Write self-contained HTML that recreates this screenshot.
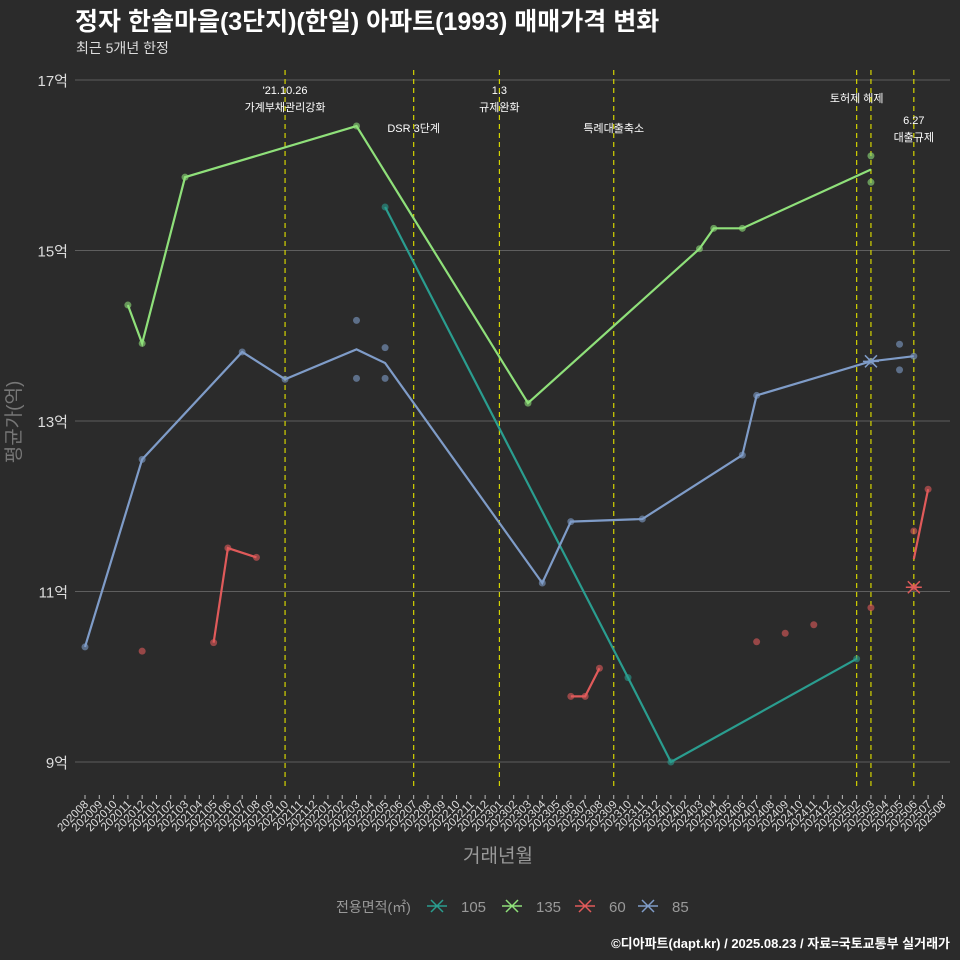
<!DOCTYPE html>
<html><head><meta charset="utf-8"><style>
body{margin:0;background:#2b2b2b;}
svg{display:block;font-family:"Liberation Sans","Noto Sans CJK KR",sans-serif;}
</style></head><body>
<svg id="c" width="960" height="960" viewBox="0 0 960 960">
<rect width="960" height="960" fill="#2b2b2b"/>
<text x="75" y="30" fill="#fff" font-size="25" font-weight="bold">정자 한솔마을(3단지)(한일) 아파트(1993) 매매가격 변화</text>
<text x="76" y="53" fill="#ddd" font-size="14">최근 5개년 한정</text>
<g id="grid"></g><g id="vl"></g><g id="lines"></g><g id="pts"></g><g id="xt"></g>
<text x="498" y="862" fill="#999" font-size="19" text-anchor="middle">거래년월</text>
<text transform="translate(20,422) rotate(-90)" fill="#777" font-size="19" text-anchor="middle">평균가(억)</text>
<g id="legend">
<text x="336" y="912" fill="#999" font-size="14">전용면적(㎡)</text>
</g>
<text x="950" y="948" fill="#fff" font-size="13" font-weight="bold" text-anchor="end">©디아파트(dapt.kr) / 2025.08.23 / 자료=국토교통부 실거래가</text>
</svg>
<script>
const months=[];for(let y=2020,m=8;months.length<61;){months.push(y+String(m).padStart(2,'0'));m++;if(m>12){m=1;y++;}}
const yTicks=[9,11,13,15,17];
const series=['105','135','60','85'];
const colors={'105':'#2a9d8f','135':'#8fe07a','60':'#e05a5a','85':'#7f9cc8'};
const line105=[[21,15.51],[38,9.99],[41,9.0],[54,10.21]];
const line135=[[3,14.36],[4,13.91],[7,15.86],[19,16.46],[31,13.21],[43,15.02],[44,15.26],[46,15.26],[55,15.95]];
const line60=[[9,10.40],[10,11.51],[12,11.40],null,[34,9.77],[35,9.77],[36,10.10],null,[58,11.38],[59,12.20]];
const line85=[[0,10.35],[4,12.55],[11,13.81],[14,13.49],[19,13.84],[21,13.68],[32,11.10],[34,11.82],[39,11.85],[46,12.60],[47,13.30],[55,13.70],[58,13.76]];
const pts105=[[21,15.51],[38,9.99],[41,9.0],[54,10.21]];
const pts135=[[3,14.36],[4,13.91],[7,15.86],[19,16.46],[31,13.21],[43,15.02],[44,15.26],[46,15.26],[55,16.11],[55,15.80]];
const pts60=[[4,10.30],[9,10.40],[10,11.51],[12,11.40],[34,9.77],[35,9.77],[36,10.10],[47,10.41],[49,10.51],[51,10.61],[55,10.81],[58,11.71],[58,11.05],[59,12.20]];
const pts85=[[0,10.35],[4,12.55],[11,13.81],[14,13.49],[19,14.18],[19,13.50],[21,13.86],[21,13.50],[32,11.10],[34,11.82],[39,11.85],[46,12.60],[47,13.30],[55,13.70],[57,13.90],[57,13.60],[58,13.76]];
const eventIdx=[14,23,29,37,54,55,58];
const eventLabels=[["'21.10.26","가계부채관리강화"],["DSR 3단계"],["1.3","규제완화"],["특례대출축소"],["토허제 해제"],[],["6.27","대출규제"]];
const eventY=[90,128,90,128,98,0,120];
const X=i=>85+i*14.29, Y=v=>762-(v-9)*85.25;
const NS='http://www.w3.org/2000/svg';
function mk(t,a,p){const e=document.createElementNS(NS,t);for(const k in a)e.setAttribute(k,a[k]);p.appendChild(e);return e;}
const g=id=>document.getElementById(id);
yTicks.forEach(v=>{const l=mk('line',{x1:75,x2:950,y1:Y(v),y2:Y(v),stroke:'#5e5e5e','stroke-width':1},g('grid'));


const t=mk('text',{x:68,y:Y(v)+6,fill:'#ddd','font-size':15,'text-anchor':'end'},g('grid'));t.textContent=v+'억';

});
months.forEach((m,i)=>{const l=mk('line',{x1:X(i),x2:X(i),y1:795,y2:799,stroke:'#bbb'},g('xt'));


const t=mk('text',{transform:`translate(${X(i)+4},805) rotate(-45)`,fill:'#ddd','font-size':11.5,'text-anchor':'end'},g('xt'));t.textContent=m;

});
eventIdx.forEach((ix,k)=>{const l=mk('line',{x1:X(ix),x2:X(ix),y1:70,y2:790,stroke:'#d4d400','stroke-width':1.2,'stroke-dasharray':'5,4'},g('vl'));


eventLabels[k].forEach((s,j)=>{const t=mk('text',{x:X(ix),y:eventY[k]+j*17+4,fill:'#fff','font-size':11,'text-anchor':'middle'},g('vl'));t.textContent=s;

});});
const L={'105':line105,'135':line135,'60':line60,'85':line85},P={'105':pts105,'135':pts135,'60':pts60,'85':pts85};
series.forEach(s=>{let d='',mv=true;L[s].forEach(p=>{if(!p){mv=true;return;}d+=(mv?'M':'L')+X(p[0])+','+Y(p[1]);mv=false;});
const pa=mk('path',{d,fill:'none',stroke:colors[s],'stroke-width':2.2},g('lines'));


P[s].forEach(p=>{const c=mk('circle',{cx:X(p[0]),cy:Y(p[1]),r:3.5,fill:colors[s],opacity:0.6},g('pts'));

});});
[['85',55,13.70],['60',58,11.05]].forEach(([s,i,v])=>{const x=X(i),y=Y(v);const p=mk('path',{d:`M${x-6},${y-6}L${x+6},${y+6}M${x-6},${y+6}L${x+6},${y-6}M${x-8},${y}L${x+8},${y}`,stroke:colors[s],'stroke-width':1.5},g('pts'));

});
const legX={'105':437,'135':512,'60':585,'85':648};
series.forEach(s=>{const x=legX[s],y=906;const p=mk('path',{d:`M${x-10},${y}L${x+10},${y}M${x-6},${y-6}L${x+6},${y+6}M${x-6},${y+6}L${x+6},${y-6}`,stroke:colors[s],'stroke-width':1.5},g('legend'));


const t=mk('text',{x:x+24,y:y+6,fill:'#999','font-size':15},g('legend'));t.textContent=s;

});
</script>
</body></html>
